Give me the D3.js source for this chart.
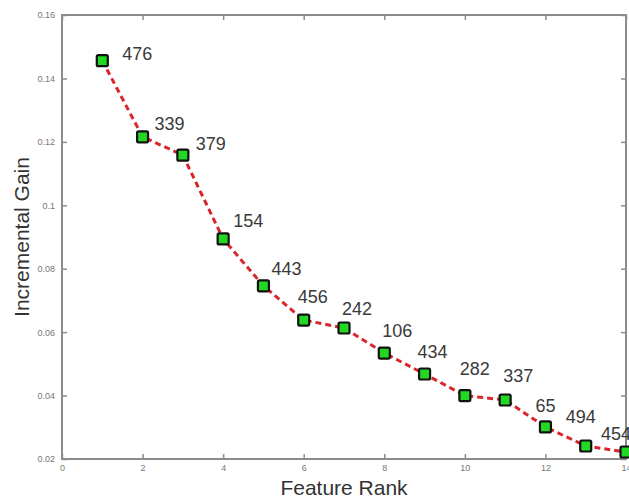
<!DOCTYPE html>
<html>
<head>
<meta charset="utf-8">
<script src="https://cdn.jsdelivr.net/npm/d3@7"></script>
<style>
  body { margin: 0; background: #fff; }
  svg { display: block; }
</style>
</head>
<body>
<div id="chart"></div>
<script>
// values
let ranks = [1, 2, 3, 4, 5, 6, 7, 8, 9, 10, 11, 12, 13, 14];
let gains = [0.1456, 0.1216, 0.1158, 0.0894, 0.0746, 0.0638, 0.0613, 0.0534,
  0.0468, 0.0400, 0.0386, 0.0301, 0.0241, 0.0222];
let featureIds = ["476", "339", "379", "154", "443", "456", "242", "106",
  "434", "282", "337", "65", "494", "454"];
let xTicks = [0, 2, 4, 6, 8, 10, 12, 14];
let yTicks = [0.02, 0.04, 0.06, 0.08, 0.1, 0.12, 0.14, 0.16];

// hand placed label nudges (px), like the text() calls in the original figure
let labelDx = [20, 12, 13, 10, 8, -6, -2, -2, -7, -5, -2, -10, -20, -25];
let labelDy = [-1, -7, -5, -12, -11, -17, -13, -16, -16, -21, -18, -15, -23, -12];

let w = 629;
let h = 498;
let margin = { left: 62, top: 15, right: 3, bottom: 39 };

let svg = d3
  .select("#chart")
  .append("svg")
  .attr("width", w)
  .attr("height", h);

let x = d3.scaleLinear().domain([0, 14]).range([margin.left, w - margin.right]);
let y = d3.scaleLinear().domain([0.02, 0.16]).range([h - margin.bottom, margin.top]);

let axisColor = "#8c8c8c";
let tickColor = "#777";

// box
svg
  .append("rect")
  .attr("x", x(0))
  .attr("y", y(0.16))
  .attr("width", x(14) - x(0))
  .attr("height", y(0.02) - y(0.16))
  .attr("fill", "none")
  .attr("stroke", axisColor)
  .attr("stroke-width", 2);

// axes, ticks point inward like matlab
let bottomAxis = svg
  .append("g")
  .attr("transform", "translate(0," + y(0.02) + ")")
  .call(
    d3.axisBottom(x)
      .tickValues(xTicks)
      .tickSize(-5)
      .tickPadding(6)
      .tickFormat(d3.format("d"))
  );
let topAxis = svg
  .append("g")
  .attr("transform", "translate(0," + y(0.16) + ")")
  .call(d3.axisTop(x).tickValues(xTicks).tickSize(-5).tickFormat(""));
let leftAxis = svg
  .append("g")
  .attr("transform", "translate(" + x(0) + ",0)")
  .call(
    d3.axisLeft(y)
      .tickValues(yTicks)
      .tickSize(-5)
      .tickPadding(7)
      .tickFormat(function(d) {
        return d === 0.1 ? "0.1" : d3.format(".2f")(d);
      })
  );
let rightAxis = svg
  .append("g")
  .attr("transform", "translate(" + x(14) + ",0)")
  .call(d3.axisRight(y).tickValues(yTicks).tickSize(-5).tickFormat(""));

[bottomAxis, topAxis, leftAxis, rightAxis].forEach(function(g) {
  g.select(".domain").remove();
  g.selectAll(".tick line").attr("stroke", axisColor).attr("stroke-width", 1.5);
  g.selectAll("text")
    .attr("fill", tickColor)
    .attr("font-family", "Liberation Sans, Arial, sans-serif")
    .attr("font-size", 9);
});

// dashed red line
let line = d3
  .line()
  .x(function(d, i) {
    return x(ranks[i]);
  })
  .y(function(d) {
    return y(d);
  });

svg
  .append("path")
  .datum(gains)
  .attr("d", line)
  .attr("fill", "none")
  .attr("stroke", "#d8262c")
  .attr("stroke-width", 3)
  .attr("stroke-dasharray", "6,4");

// square markers
svg
  .append("g")
  .selectAll("rect")
  .data(gains)
  .enter()
  .append("rect")
  .attr("x", function(d, i) {
    return x(ranks[i]) - 5.5;
  })
  .attr("y", function(d) {
    return y(d) - 5.5;
  })
  .attr("width", 11)
  .attr("height", 11)
  .attr("rx", 1.5)
  .attr("fill", "#22d822")
  .attr("stroke", "#111")
  .attr("stroke-width", 2.2);

// feature id labels
svg
  .append("g")
  .selectAll("text")
  .data(gains)
  .enter()
  .append("text")
  .text(function(d, i) {
    return featureIds[i];
  })
  .attr("x", function(d, i) {
    return x(ranks[i]) + labelDx[i];
  })
  .attr("y", function(d, i) {
    return y(d) + labelDy[i];
  })
  .attr("font-family", "Liberation Sans, Arial, sans-serif")
  .attr("font-size", 18)
  .attr("fill", "#3a3a3a");

// axis titles
svg
  .append("text")
  .text("Feature Rank")
  .attr("x", (x(0) + x(14)) / 2)
  .attr("y", 495)
  .attr("text-anchor", "middle")
  .attr("font-family", "Liberation Sans, Arial, sans-serif")
  .attr("font-size", 21)
  .attr("fill", "#333");

svg
  .append("text")
  .text("Incremental Gain")
  .attr("transform", "translate(29," + (y(0.02) + y(0.16)) / 2 + ") rotate(-90)")
  .attr("text-anchor", "middle")
  .attr("font-family", "Liberation Sans, Arial, sans-serif")
  .attr("font-size", 21)
  .attr("fill", "#333");
</script>
</body>
</html>
